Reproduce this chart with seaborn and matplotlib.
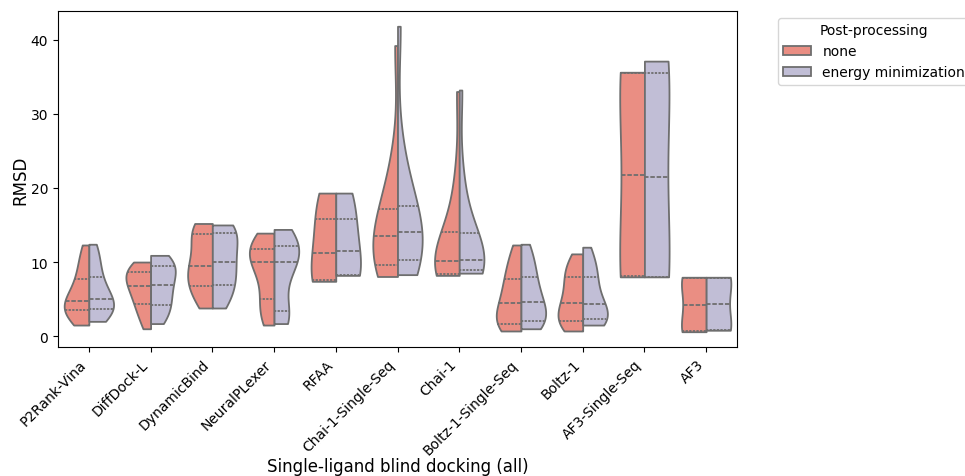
import numpy as np
import pandas as pd
import matplotlib
matplotlib.use("Agg")
import matplotlib.pyplot as plt
import seaborn as sns

methods = ["P2Rank-Vina", "DiffDock-L", "DynamicBind", "NeuralPLexer", "RFAA",
           "Chai-1-Single-Seq", "Chai-1", "Boltz-1-Single-Seq", "Boltz-1",
           "AF3-Single-Seq", "AF3"]
post_labels = ["none", "energy minimization"]

# RMSD samples (none / energy minimization)
p2rank_none = [1.5, 2.5, 3.0, 3.5, 3.8, 4.2, 4.7, 5.5, 6.5, 7.7, 9.0, 10.5, 12.3]
p2rank_em = [2.0, 2.8, 3.3, 3.7, 4.0, 4.5, 5.0, 5.8, 7.0, 8.0, 9.5, 11.0, 12.4]
diffdock_none = [1.0, 2.5, 3.8, 4.4, 5.5, 6.3, 6.8, 7.5, 8.2, 8.6, 9.0, 9.5, 10.0]
diffdock_em = [1.7, 2.5, 3.5, 4.25, 5.2, 6.2, 6.9, 7.8, 8.8, 9.4, 9.8, 10.3, 10.9]
dynbind_none = [3.8, 5.0, 6.2, 6.8, 8.0, 8.9, 9.4, 10.0, 12.0, 13.8, 14.3, 14.8, 15.2]
dynbind_em = [3.8, 5.0, 6.2, 6.9, 8.2, 9.3, 10.05, 11.0, 12.5, 13.9, 14.3, 14.7, 15.0]
neuralplexer_none = [1.5, 2.5, 3.8, 4.95, 7.0, 9.0, 10.05, 10.6, 11.2, 11.75, 12.3, 13.0, 13.9]
neuralplexer_em = [1.7, 2.2, 2.8, 3.4, 7.5, 9.2, 10.05, 10.8, 11.5, 12.1, 12.8, 13.6, 14.4]
rfaa_none = [7.4, 7.67, 14.7, 19.3]
rfaa_em = [8.2, 8.2, 14.7, 19.3]
chai_ss_none = [8.05, 8.6, 9.1, 9.6, 10.5, 12.0, 13.5, 14.5, 15.8, 17.1, 19.5, 24.0, 39.2]
chai_ss_em = [8.3, 9.0, 9.7, 10.3, 11.5, 12.8, 14.1, 15.2, 16.3, 17.5, 20.0, 25.0, 41.8]
chai_none = [8.2, 8.3, 8.35, 8.4, 9.0, 9.6, 10.2, 11.0, 12.5, 14.1, 17.0, 22.0, 33.0]
chai_em = [8.5, 8.6, 8.8, 8.9, 9.3, 9.8, 10.3, 11.2, 12.5, 13.9, 16.5, 21.5, 33.2]
boltz_ss_none = [0.7, 1.2, 1.5, 1.7, 2.5, 3.5, 4.5, 5.5, 6.7, 7.7, 9.0, 10.5, 12.3]
boltz_ss_em = [1.0, 1.5, 1.8, 2.1, 3.0, 3.8, 4.6, 5.6, 6.8, 8.0, 9.3, 10.8, 12.4]
boltz_none = [0.7, 1.2, 1.7, 2.1, 2.9, 3.8, 4.5, 5.5, 7.0, 8.0, 8.8, 9.8, 11.1]
boltz_em = [1.5, 1.8, 2.0, 2.25, 2.8, 3.5, 4.3, 5.3, 6.8, 8.0, 9.0, 10.3, 12.0]
af3_ss_none = [8.0, 8.1, 35.5, 35.6]
af3_ss_em = [8.0, 8.0, 34.9, 37.1]
af3_none = [0.6, 0.7, 7.8, 7.95]
af3_em = [0.8, 0.8, 7.9, 7.95]

groups = [
    (p2rank_none, p2rank_em), (diffdock_none, diffdock_em),
    (dynbind_none, dynbind_em), (neuralplexer_none, neuralplexer_em),
    (rfaa_none, rfaa_em), (chai_ss_none, chai_ss_em), (chai_none, chai_em),
    (boltz_ss_none, boltz_ss_em), (boltz_none, boltz_em),
    (af3_ss_none, af3_ss_em), (af3_none, af3_em),
]

rows = []
for m, (a, b) in zip(methods, groups):
    for v in a:
        rows.append((m, post_labels[0], v))
    for v in b:
        rows.append((m, post_labels[1], v))
df = pd.DataFrame(rows, columns=["method", "post", "rmsd"])

set3 = sns.color_palette("Set3")
palette = [set3[3], set3[2]]

fig = plt.figure(figsize=(9.65, 4.77), dpi=100)
ax = fig.add_axes([58 / 965, 1 - 348 / 477, (737 - 58) / 965, (348 - 12) / 477])
sns.violinplot(data=df, x="method", y="rmsd", hue="post", order=methods,
               hue_order=post_labels, split=True, inner="quart", cut=0,
               density_norm="width", palette=palette, linewidth=1.3, ax=ax)
ax.set_xlabel("Single-ligand blind docking (all)", fontsize=12)
ax.xaxis.set_label_coords(0.5, -0.327)
ax.set_ylabel("RMSD", fontsize=12, labelpad=1)
ax.set_xticks(range(len(methods)))
ax.set_xticklabels(methods, rotation=45, ha="right")
ax.legend(title="Post-processing", bbox_to_anchor=(1.05, 1), loc="upper left")
fig.savefig("out.png", dpi=100)
